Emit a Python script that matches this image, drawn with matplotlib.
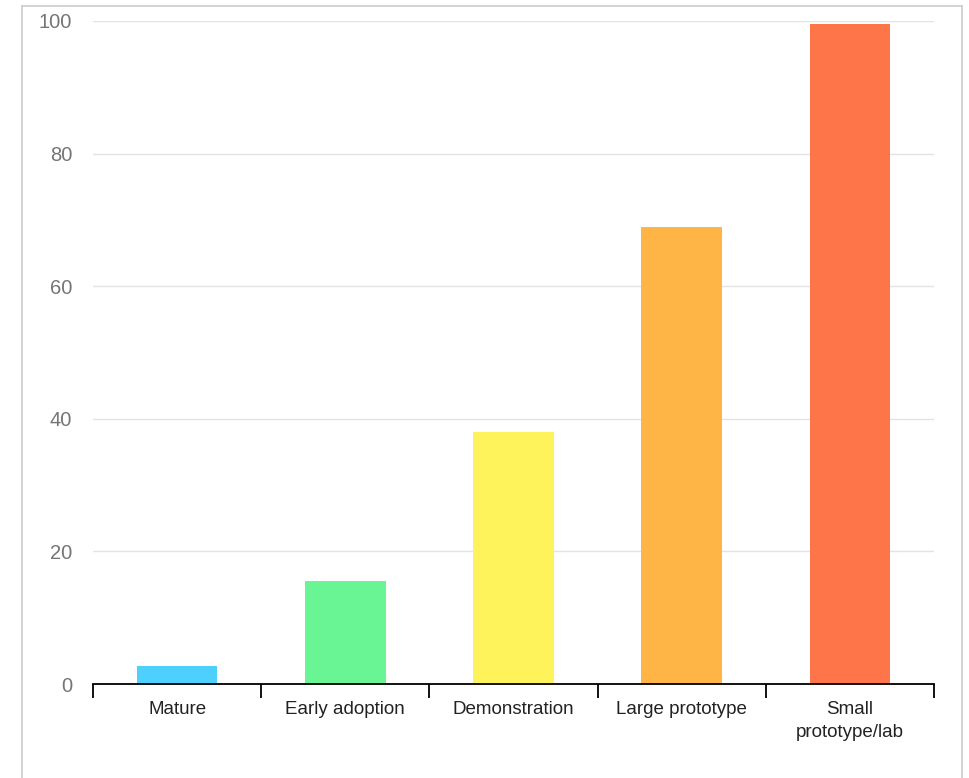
import numpy as np
import matplotlib.pyplot as plt
from matplotlib.lines import Line2D

# readiness levels and their values
stages = ["Mature", "Early adoption", "Demonstration", "Large prototype", "Small\nprototype/lab"]
values = [2.7, 15.5, 38.0, 68.9, 99.5]
colors = ["#4dd0fe", "#69f593", "#fff35b", "#ffb545", "#ff754a"]
yticks = [0, 20, 40, 60, 80, 100]

plt.rcParams['font.family'] = ['Liberation Sans', 'DejaVu Sans']

fig = plt.figure(figsize=(9.69, 7.78), dpi=100)
ax = fig.add_axes([93/969, 94/778, (934-93)/969, (684-21)/778])

x = np.arange(len(stages)) + 0.5
ax.bar(x, values, width=0.48, color=colors, zorder=2)

ax.set_xlim(0, len(stages))
ax.set_ylim(0, 100)

# category boundaries get the tick marks, labels sit in between
ax.set_xticks(np.arange(len(stages) + 1))
ax.set_xticklabels([])
ax.tick_params(axis='x', which='major', length=10, width=1.3, color='black', direction='out')
ax.set_xticks(x, minor=True)
ax.set_xticklabels(stages, minor=True, fontsize=13.5, color='#222222', linespacing=1.45)
ax.tick_params(axis='x', which='minor', length=0, pad=12)

ax.set_yticks(yticks)
ax.set_yticklabels([str(v) for v in yticks], fontsize=14.5, color='#757575')
ax.tick_params(axis='y', length=0, pad=15)
ax.yaxis.grid(True, color='#e3e3e3', linewidth=1, zorder=0)

for s in ['top', 'right', 'left']:
    ax.spines[s].set_visible(False)
ax.spines['bottom'].set_linewidth(1.3)
ax.spines['bottom'].set_color('black')
ax.spines['bottom'].set_zorder(3)

# light frame around the chart
x0, x1, yt = 22/969, 962/969, 1 - 6/778
fig.add_artist(Line2D([x0, x0], [-0.01, yt], color='#cccccc', lw=1.2, transform=fig.transFigure))
fig.add_artist(Line2D([x0, x1], [yt, yt], color='#cccccc', lw=1.2, transform=fig.transFigure))
fig.add_artist(Line2D([x1, x1], [-0.01, yt], color='#cccccc', lw=1.2, transform=fig.transFigure))

fig.savefig("out.png", dpi=100)
